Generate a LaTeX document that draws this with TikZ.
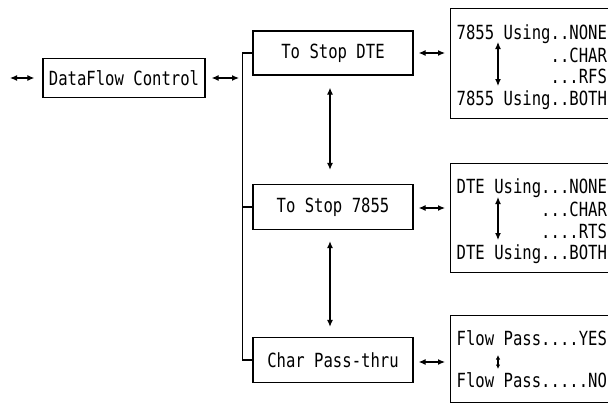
\documentclass[tikz,border=0pt]{standalone}
\usepackage{fontspec}
\newfontfamily\panelfont[FakeStretch=0.8]{DejaVu Sans Mono}
\usetikzlibrary{arrows.meta}
\tikzset{
  biarrow/.style={{Latex[length=7pt,width=6pt]}-{Latex[length=7pt,width=6pt]}, line width=1.2pt},
  stage/.style={draw, line width=1.3pt, minimum width=160pt, minimum height=45pt, inner sep=0pt,
    font=\fontsize{19.5}{22}\panelfont},
  panel/.style={draw, line width=1.3pt, minimum width=170pt, anchor=north west, inner sep=0pt},
  readout/.style={inner sep=0pt, font=\fontsize{19.5}{22}\panelfont}
}
\begin{document}
\begin{tikzpicture}[x=1pt,y=-1pt]
  \useasboundingbox (0,0) rectangle (608,405);
  % Control box and its outer link
  \node[stage, minimum width=162pt, minimum height=39pt] (dfc) at (124,78) {DataFlow Control};
  \coordinate (ext) at (10,78);
  \draw[biarrow, shorten >=8pt] (ext) -- (dfc.west);
  % Three stages
  \node[stage, minimum height=44pt] (stopdte) at (333,53) {To Stop DTE};
  \node[stage] (stop78) at (333,207) {To Stop 7855};
  \node[stage] (pass) at (333,360) {Char Pass-thru};
  % Bus
  \draw[line width=1.3pt] (stopdte.west) -- ++(-10,0) |- (pass.west);
  \draw[line width=1.3pt] (stop78.west) -- ++(-10,0);
  \coordinate (bus) at (243,78);
  \draw[biarrow, shorten <=6pt, shorten >=4pt] (dfc.east) -- (bus);
  % Links between stages
  \draw[biarrow, shorten <=12pt, shorten >=14pt] ([xshift=-3pt]stopdte.south) -- ([xshift=-3pt]stop78.north);
  \draw[biarrow, shorten <=11pt, shorten >=10pt] ([xshift=-3pt]stop78.south) -- ([xshift=-3pt]pass.north);
  % Option panels
  \node[panel, minimum height=110pt] (p1) at (450,8) {};
  \node[panel, minimum height=109pt] (p2) at (450,163) {};
  \node[panel, minimum height=87pt] (p3) at (450,315) {};
  \draw[biarrow, shorten <=5pt, shorten >=5pt] (stopdte.east) -- (stopdte.east -| p1.west);
  \draw[biarrow, shorten <=5pt, shorten >=5pt] ([yshift=-1pt]stop78.east) -- ([yshift=-1pt]stop78.east -| p2.west);
  \draw[biarrow, shorten <=5pt, shorten >=5pt] ([yshift=-2pt]pass.east) -- ([yshift=-2pt]pass.east -| p3.west);
  % Panel 1
  \node[readout, anchor=base west] (r1a) at (456.5,39) {7855 Using..NONE};
  \node[readout, anchor=base east] (r1b) at ([yshift=-23pt]r1a.base east) {..CHAR};
  \node[readout, anchor=base east] (r1c) at ([yshift=-44pt]r1a.base east) {...RFS};
  \node[readout, anchor=base west] (r1d) at (456.5,105) {7855 Using..BOTH};
  \coordinate (s1a) at (498,42);
  \coordinate (s1b) at (498,86);
  \draw[biarrow] (s1a) -- (s1b);
  % Panel 2
  \node[readout, anchor=base west] (r2a) at (456.5,193) {DTE Using...NONE};
  \node[readout, anchor=base east] (r2b) at ([yshift=-23pt]r2a.base east) {...CHAR};
  \node[readout, anchor=base east] (r2c) at ([yshift=-45pt]r2a.base east) {....RTS};
  \node[readout, anchor=base west] (r2d) at (456.5,259) {DTE Using...BOTH};
  \coordinate (s2a) at (498,197);
  \coordinate (s2b) at (498,240);
  \draw[biarrow] (s2a) -- (s2b);
  % Panel 3
  \node[readout, anchor=base west] (r3a) at (456.5,345) {Flow Pass....YES};
  \node[readout, anchor=base west] (r3b) at (456.5,387) {Flow Pass.....NO};
  \coordinate (s3a) at (498,355);
  \coordinate (s3b) at (498,369);
  \draw[{Latex[length=4.5pt,width=4.5pt]}-{Latex[length=4.5pt,width=4.5pt]}, line width=1.2pt] (s3a) -- (s3b);
\end{tikzpicture}
\end{document}
